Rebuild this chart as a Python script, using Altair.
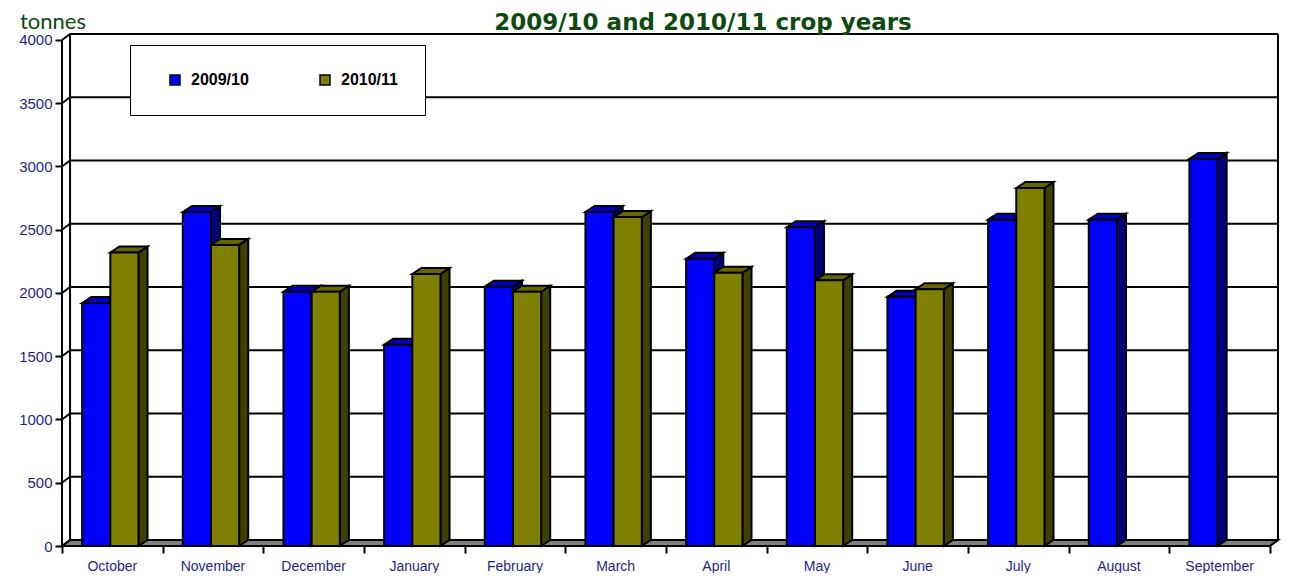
import altair as alt
import pandas as pd

# ---------------- data ----------------
months = ["October", "November", "December", "January", "February", "March",
          "April", "May", "June", "July", "August", "September"]
s0910 = [1920, 2640, 2010, 1590, 2050, 2640, 2270, 2520, 1970, 2580, 2580, 3060]
s1011 = [2320, 2380, 2010, 2150, 2010, 2600, 2160, 2100, 2030, 2830, None, None]
series_names = ["2009/10", "2010/11"]
y_ticks = [0, 500, 1000, 1500, 2000, 2500, 3000, 3500, 4000]
title_text = "2009/10 and 2010/11 crop years"
unit_text = "tonnes"

# ---------------- geometry / style ----------------
XMAX = 12.1
YTOP = 4047.4
DXW = 0.08      # wall depth (x units)
DY = 47.4       # depth offset in y units
DXB = 0.09      # bar depth (x units)
WB = 0.28       # bar width
OFFS = [0.2, 0.48]
FRONT = ["#0000ff", "#808000"]
TOPC = ["#0000c0", "#666600"]
SIDEC = ["#000080", "#404000"]
NAVY = "#1f1f8c"
GREEN = "#0e4a0e"
FONT = "Liberation Sans"
n = len(months)

xs = alt.Scale(domain=[0, XMAX], nice=False, zero=False)
ys = alt.Scale(domain=[0, YTOP], nice=False, zero=False)

X_AX = alt.Axis(values=list(range(n + 1)), labels=False, domain=False, grid=False,
                ticks=True, tickColor="black", tickWidth=2, tickSize=7, title=None,
                orient="bottom")
Y_AX = alt.Axis(values=y_ticks, format="d", domain=False, grid=False, ticks=True,
                tickColor="black", tickWidth=2, tickSize=7, labelColor=NAVY, labelFont=FONT,
                labelFontSize=15, labelPadding=3, title=None, orient="left")


def X(f):
    return alt.X(f, scale=xs, axis=X_AX)


def Y(f, stack=False):
    if stack:
        return alt.Y(f, scale=ys, axis=Y_AX, stack=None)
    return alt.Y(f, scale=ys, axis=Y_AX)


# ---------------- frame ----------------
frame = []
for v in y_ticks:
    seg = f"g{v}"
    frame += [dict(seg=seg, k=0, x=0, y=v), dict(seg=seg, k=1, x=DXW, y=v + DY),
              dict(seg=seg, k=2, x=n + DXW, y=v + DY)]
frame += [dict(seg="fl", k=0, x=0, y=0), dict(seg="fl", k=1, x=0, y=y_ticks[-1])]
frame += [dict(seg="bl", k=0, x=DXW, y=DY), dict(seg="bl", k=1, x=DXW, y=y_ticks[-1] + DY)]
frame += [dict(seg="br", k=0, x=n + DXW, y=DY), dict(seg="br", k=1, x=n + DXW, y=y_ticks[-1] + DY)]
frame += [dict(seg="ff", k=0, x=0, y=0), dict(seg="ff", k=1, x=n, y=0),
          dict(seg="ff", k=2, x=n + DXW, y=DY)]
frame_df = pd.DataFrame(frame)

floor_df = pd.DataFrame([
    dict(b="floor", x=0, y=0, y2=0),
    dict(b="floor", x=DXW, y=DY, y2=0),
    dict(b="floor", x=n, y=DY, y2=0),
    dict(b="floor", x=n + DXW, y=DY, y2=DY),
])

floor = alt.Chart(floor_df).mark_area(
    fill="#808080", stroke="black", strokeWidth=2, opacity=1, interpolate="linear"
).encode(x=X("x:Q"), y=Y("y:Q", True), y2="y2:Q", detail="b:N")

lines = alt.Chart(frame_df).mark_line(color="black", strokeWidth=2).encode(
    x=X("x:Q"), y=Y("y:Q"), detail="seg:N", order="k:Q",
)

# ---------------- bars ----------------
def bar_layers(values, si):
    fronts, tops, sides = [], [], []
    for i, v in enumerate(values):
        if v is None:
            continue
        L = i + OFFS[si]
        R = L + WB
        b = f"{si}-{i}"
        fronts.append(dict(x=L, x2=R, y=v, y0=0, series=series_names[si], month=months[i]))
        tops += [dict(b=b, x=L, y=v, y2=v), dict(b=b, x=L + DXB, y=v + DY, y2=v),
                 dict(b=b, x=R, y=v + DY, y2=v), dict(b=b, x=R + DXB, y=v + DY, y2=v + DY)]
        sides += [dict(b=b, x=R, y=v, y2=0), dict(b=b, x=R + DXB, y=v + DY, y2=DY)]
    side = alt.Chart(pd.DataFrame(sides)).mark_area(
        fill=SIDEC[si], stroke="black", strokeWidth=2, opacity=1, interpolate="linear"
    ).encode(x=X("x:Q"), y=Y("y:Q", True), y2="y2:Q", detail="b:N")
    top = alt.Chart(pd.DataFrame(tops)).mark_area(
        fill=TOPC[si], stroke="black", strokeWidth=2, opacity=1, interpolate="linear"
    ).encode(x=X("x:Q"), y=Y("y:Q", True), y2="y2:Q", detail="b:N")
    front = alt.Chart(pd.DataFrame(fronts)).mark_rect(
        stroke="black", strokeWidth=2, opacity=1
    ).encode(
        x=X("x:Q"),
        x2="x2:Q",
        y=Y("y:Q"),
        y2="y0:Q",
        color=alt.Color("series:N",
                        scale=alt.Scale(domain=series_names, range=FRONT),
                        legend=alt.Legend(title=None, orient="none", legendX=68, legendY=11,
                                          direction="horizontal", fillColor="white",
                                          strokeColor="black", padding=27,
                                          symbolType="square", symbolSize=100,
                                          symbolStrokeColor="black", symbolStrokeWidth=1.5,
                                          symbolOffset=10, labelOffset=8, columnPadding=58,
                                          labelFont=FONT, labelFontSize=16,
                                          labelFontWeight="bold", labelColor="black")),
    )
    return [side, top, front]

bars = bar_layers(s0910, 0) + bar_layers(s1011, 1)

# ---------------- texts ----------------
lab_df = pd.DataFrame({"month": months, "xc": [i + 0.5 for i in range(n)]})
labels = alt.Chart(lab_df).mark_text(
    font=FONT, fontSize=14, color=NAVY, baseline="alphabetic", align="center"
).encode(
    x=X("xc:Q"),
    y=alt.value(537),
    text="month:N",
)

title = alt.Chart(pd.DataFrame({"t": [title_text]})).mark_text(
    font="DejaVu Sans", fontSize=23, fontWeight="bold", color=GREEN,
    baseline="alphabetic", align="center"
).encode(x=alt.value(641), y=alt.value(-4), text="t:N")

unit = alt.Chart(pd.DataFrame({"t": [unit_text]})).mark_text(
    font="Lato", fontSize=22, color=GREEN, baseline="alphabetic", align="left"
).encode(x=alt.value(-42), y=alt.value(-5), text="t:N")

chart = alt.layer(floor, lines, *bars, labels, title, unit).properties(
    width=1218, height=512,
    autosize=alt.AutoSizeParams(type="none"),
    padding={"left": 54, "top": 26, "right": 4, "bottom": 27},
).configure_view(strokeWidth=0)

chart.save("out.html", embed_options={"renderer": "svg", "actions": False})
